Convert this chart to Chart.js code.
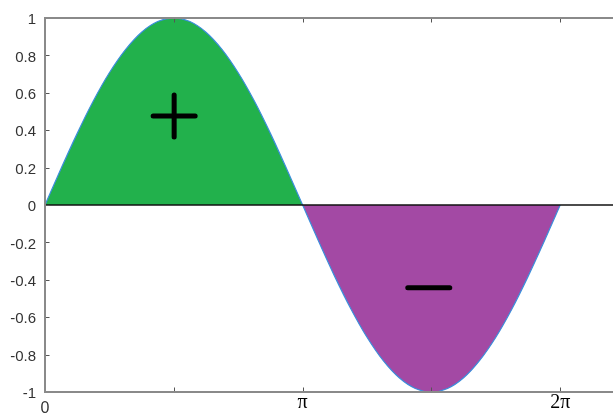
<!DOCTYPE html>
<html>
<head>
<meta charset="utf-8">
<script src="https://cdn.jsdelivr.net/npm/chart.js@4"></script>
<style>
  html, body { margin: 0; padding: 0; overflow: hidden; background: #fff; }
</style>
</head>
<body>
<canvas id="chart" width="622" height="416"></canvas>
<script>
const xs = [0, 0.196, 0.393, 0.589, 0.785, 0.982, 1.178, 1.374, 1.571, 1.767, 1.963, 2.160, 2.356, 2.553, 2.749, 2.945,
            3.142, 3.338, 3.534, 3.731, 3.927, 4.123, 4.320, 4.516, 4.712, 4.909, 5.105, 5.301, 5.498, 5.694, 5.890, 6.087, 6.283];
const ys = [0, 0.195, 0.383, 0.556, 0.707, 0.831, 0.924, 0.981, 1.000, 0.981, 0.924, 0.831, 0.707, 0.556, 0.383, 0.195,
            0, -0.195, -0.383, -0.556, -0.707, -0.831, -0.924, -0.981, -1.000, -0.981, -0.924, -0.831, -0.707, -0.556, -0.383, -0.195, 0];

const xTickValues = [0, 1.5708, 3.1416, 4.7124, 6.2832];
const xTickLabels = ['0', '', 'π', '', '2π'];
const yTickValues = [-1, -0.8, -0.6, -0.4, -0.2, 0, 0.2, 0.4, 0.6, 0.8, 1];
const yTickLabels = ['-1', '-0.8', '-0.6', '-0.4', '-0.2', '0', '0.2', '0.4', '0.6', '0.8', '1'];
const xRange = [0, 7];
const yRange = [-1, 1];

const plusMark = [{ x: 1.575, y: 0.476 }];
const minusMark = [{ x: 4.68, y: -0.443 }];

const curve = xs.map((x, i) => ({ x: x, y: ys[i] }));
const zeroLine = xRange.map(x => ({ x: x, y: 0 }));

// box around the plot with small inward ticks, matlab style
const boxPlugin = {
  id: 'box',
  afterDatasetsDraw(chart) {
    const { ctx, chartArea: a, scales } = chart;
    const len = 4.5;
    ctx.save();
    ctx.strokeStyle = '#555';
    ctx.lineWidth = 1;
    ctx.beginPath();
    xTickValues.forEach(v => {
      const px = Math.round(scales.x.getPixelForValue(v)) + 0.5;
      ctx.moveTo(px, a.bottom); ctx.lineTo(px, a.bottom - len);
      ctx.moveTo(px, a.top); ctx.lineTo(px, a.top + len);
    });
    yTickValues.forEach(v => {
      const py = Math.round(scales.y.getPixelForValue(v)) + 0.5;
      ctx.moveTo(a.left, py); ctx.lineTo(a.left + len, py);
      ctx.moveTo(a.right, py); ctx.lineTo(a.right - len, py);
    });
    ctx.stroke();
    ctx.strokeStyle = '#8a8a8a';
    ctx.lineWidth = 2;
    ctx.strokeRect(a.left, a.top, a.right - a.left, a.bottom - a.top);
    ctx.restore();
  },
  beforeDatasetDraw(chart, args) {
    chart.ctx.save();
    chart.ctx.lineCap = 'round';
  },
  afterDatasetDraw(chart, args) {
    chart.ctx.restore();
  }
};

new Chart(document.getElementById('chart').getContext('2d'), {
  type: 'line',
  data: {
    datasets: [
      {
        data: plusMark,
        showLine: false,
        pointStyle: 'cross',
        pointRadius: 21,
        pointBorderWidth: 5,
        pointBorderColor: '#000',
        order: -1
      },
      {
        data: minusMark,
        showLine: false,
        pointStyle: 'line',
        pointRadius: 21,
        pointBorderWidth: 5,
        pointBorderColor: '#000',
        order: -1
      },
      {
        data: zeroLine,
        borderColor: '#111',
        borderWidth: 1.6,
        pointRadius: 0,
        fill: false,
        order: 0
      },
      {
        data: curve,
        borderColor: '#3c8edb',
        borderWidth: 1.2,
        pointRadius: 0,
        cubicInterpolationMode: 'monotone',
        fill: { target: 'origin', above: '#22b14c', below: '#a349a4' },
        order: 1
      }
    ]
  },
  options: {
    responsive: false,
    devicePixelRatio: 1,
    animation: false,
    events: [],
    layout: { autoPadding: false, padding: { top: 14, right: 3, left: 0, bottom: 0 } },
    plugins: {
      legend: { display: false },
      tooltip: { enabled: false }
    },
    scales: {
      x: {
        type: 'linear',
        min: xRange[0],
        max: xRange[1],
        grid: { display: false, drawTicks: false },
        border: { display: false },
        afterBuildTicks: s => { s.ticks = xTickValues.map(v => ({ value: v })); },
        afterFit: s => { s.height = 24; },
        ticks: {
          autoSkip: false,
          maxRotation: 0,
          padding: 0,
          callback: (v, i) => xTickLabels[i],
          color: c => c.index === 0 ? '#333' : '#000',
          font: c => c.index === 0
            ? { family: 'Liberation Sans', size: 16, lineHeight: '33px' }
            : { family: 'Liberation Serif', size: 20, lineHeight: '22px' }
        }
      },
      y: {
        min: yRange[0],
        max: yRange[1],
        grid: { display: false, drawTicks: false },
        border: { display: false },
        afterBuildTicks: s => { s.ticks = yTickValues.map(v => ({ value: v })); },
        afterFit: s => { s.width = 45; },
        ticks: {
          padding: 9,
          labelOffset: 2,
          callback: (v, i) => yTickLabels[i],
          color: '#333',
          font: { family: 'Liberation Sans', size: 15 }
        }
      }
    }
  },
  plugins: [boxPlugin]
});
</script>
</body>
</html>
